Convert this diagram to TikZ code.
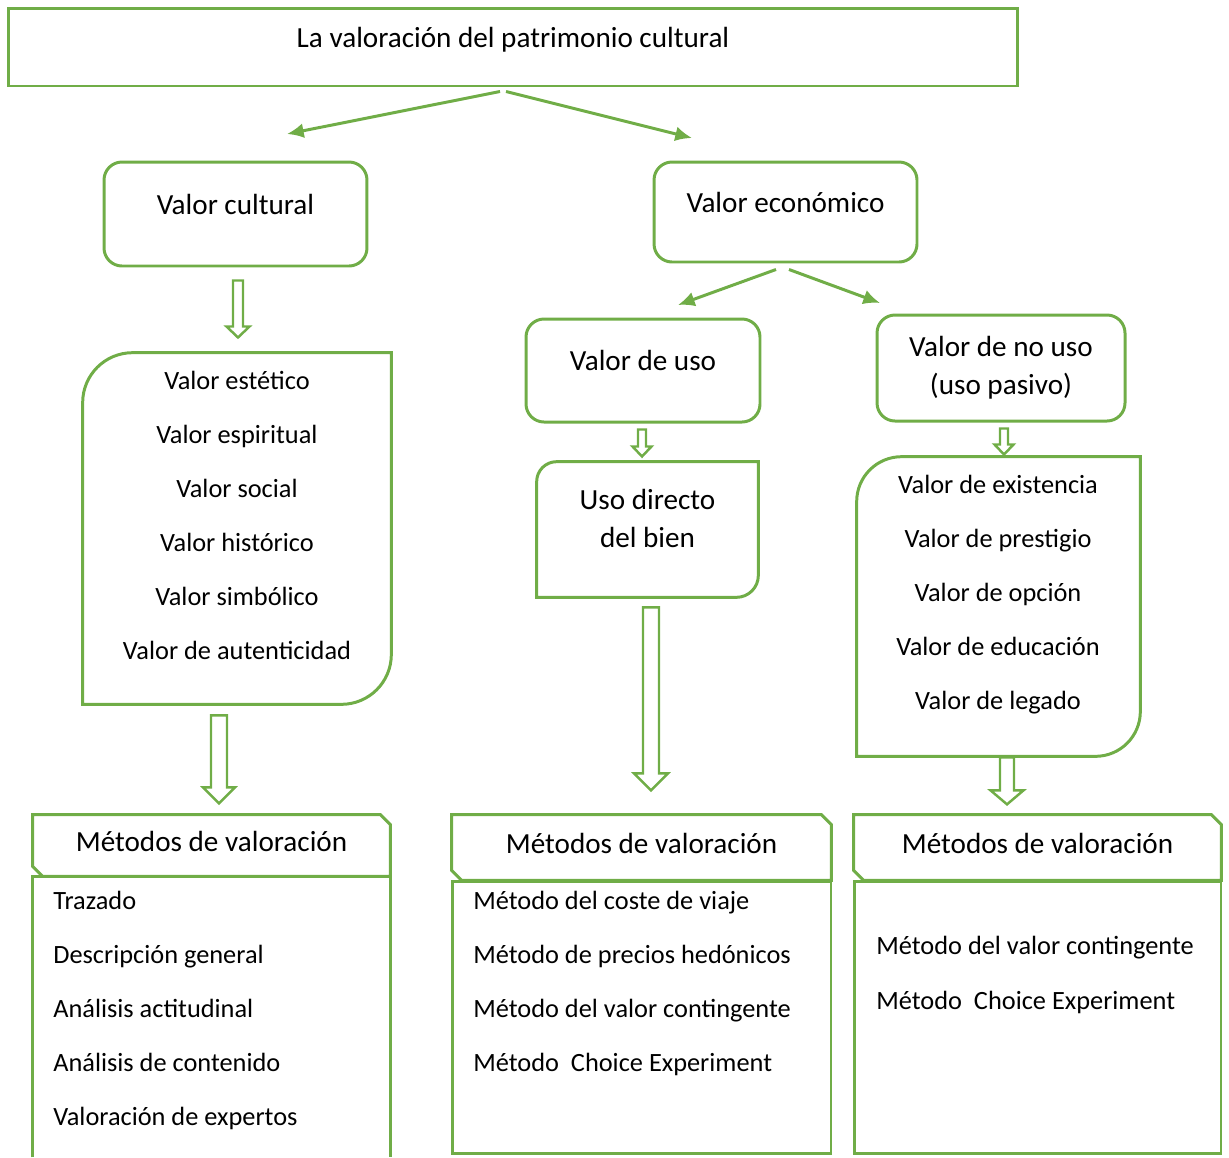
\documentclass[tikz,border=0pt]{standalone}
\usepackage{fontspec}
\setmainfont{Carlito}
\usepackage{tikz}
\usetikzlibrary{positioning,calc,arrows,arrows.meta}

\definecolor{leafgreen}{HTML}{70AD47}
\newcommand{\pxl}{0.5691pt}
\newcommand{\bigfont}{\fontsize{16.6}{21.8}\selectfont}
\newcommand{\itemfont}{\fontsize{15}{18}\selectfont}

% frame with round top-left and bottom-right corners
\newcommand{\leafframe}[3]{%
  \draw[line] (#1.north east) -- ($(#1.south east)+(0,#3)$)
    to[out=-90,in=0] ($(#1.south east)+(-#3,0)$) -- (#1.south west)
    -- ($(#1.north west)+(0,-#2)$) to[out=90,in=180] ($(#1.north west)+(#2,0)$) -- cycle;}
% frame with snipped top-right and bottom-left corners
\newcommand{\snipframe}[1]{%
  \draw[line] (#1.north west) -- ($(#1.north east)+(-10,0)$) -- ($(#1.north east)+(0,-10)$)
    -- (#1.south east) -- ($(#1.south west)+(10,0)$) -- ($(#1.south west)+(0,10)$) -- cycle;}
% hollow block arrow pointing down
\newcommand{\blockdown}[5]{%
  \draw[hollow] #1 ++(-#3,0) -- ++(2*#3,0) -- ++(0,-#2+#5) -- ++(#4-#3,0)
    -- ++(-#4,-#5) -- ++(-#4,#5) -- ++(#4-#3,0) -- cycle;}

\tikzset{
  line/.style={draw=leafgreen, line width=1.7pt},
  link/.style={line, -{Latex[length=9.5pt, width=8.5pt]}},
  hollow/.style={draw=leafgreen, line width=1.4pt, line join=miter},
  onetext/.style={font=\bigfont, text height=8pt, text depth=8pt, inner sep=0pt},
  softbox/.style={line, rounded corners=18*\pxl, inner sep=0pt},
  frame/.style={inner sep=0pt},
  itemtext/.style={font=\itemfont, inner sep=0pt},
  headtext/.style={font=\bigfont, text height=10pt, text depth=3pt, inner sep=0pt},
}

\begin{document}
\begin{tikzpicture}[x=0.02cm, y=0.02cm]
    \useasboundingbox (0,0) rectangle (1229,-1157);

    % top level
    \node[line, onetext, minimum width=1010*\pxl, minimum height=78*\pxl] (title) at (513,-47)
        {La valoración del patrimonio cultural};

    \node[softbox, onetext, minimum width=263*\pxl, minimum height=104*\pxl] (cult) at (235.5,-214) {Valor cultural};
    \node[softbox, onetext, minimum width=263*\pxl, minimum height=100*\pxl] (econ) at (785.5,-212) {Valor económico};
    \node[softbox, onetext, minimum width=234*\pxl, minimum height=103*\pxl] (uso) at (643,-370.5) {Valor de uso};
    \node[softbox, font=\bigfont, align=center, minimum width=248*\pxl, minimum height=106*\pxl] (nouso) at (1001,-368)
        {Valor de no uso\\(uso pasivo)};

    \coordinate (tocult) at (287,-134);
    \coordinate (toecon) at (692,-138);
    \coordinate (touso) at (678,-305);
    \coordinate (tonouso) at (880,-303);
    \draw[link] ($(title.south)+(-13,-4)$) -- (tocult);
    \draw[link] ($(title.south)+(-7,-4)$) -- (toecon);
    \draw[link] ($(econ.south)+(-9.5,-6)$) -- (touso);
    \draw[link] ($(econ.south)+(3.5,-6)$) -- (tonouso);

    % value lists
    \node[frame, minimum width=308*\pxl, minimum height=351*\pxl] (cultlist) at (237,-528.5) {};
    \leafframe{cultlist}{50}{50}
    \foreach \val [count=\i] in {Valor estético, Valor espiritual, Valor social,
                                 Valor histórico, Valor simbólico, Valor de autenticidad}
     \node[itemtext, anchor=base] (cv\i) at (237,-335-54*\i) {\val};

    \node[frame, minimum width=221*\pxl, minimum height=135*\pxl] (direct) at (647.5,-529.5) {};
    \leafframe{direct}{20}{22}
    \node[font=\bigfont, align=center, inner sep=0pt] (directtext) at (647.5,-518.5) {Uso directo\\del bien};

    \node[frame, minimum width=283*\pxl, minimum height=299*\pxl] (nouselist) at (998.5,-606.5) {};
    \leafframe{nouselist}{45}{45}
    \foreach \val [count=\i] in {Valor de existencia, Valor de prestigio, Valor de opción,
                                 Valor de educación, Valor de legado}
     \node[itemtext, anchor=base] (nv\i) at (998,-439-54*\i) {\val};

    \blockdown{($(cult.south)+(2.5,-13)$)}{57}{5}{11.5}{11}
    \blockdown{($(uso.south)+(-1,-6)$)}{27}{4}{9.5}{10}
    \blockdown{($(nouso.south)+(3,-6)$)}{26}{4}{9.5}{10}
    \blockdown{($(cultlist.south)+(-18,-11)$)}{88}{8}{16}{16}
    \blockdown{($(direct.south)+(3.5,-10)$)}{183}{8}{17}{17}
    \blockdown{($(nouselist.south)+(8.5,-1)$)}{47}{7}{16.5}{14}

    % valuation methods
    \node[headtext, minimum width=357*\pxl, minimum height=61*\pxl] (mhead1) at (211.5,-845.5) {Métodos de valoración};
    \node[headtext, minimum width=379*\pxl, minimum height=65*\pxl] (mhead2) at (641.5,-847.5) {Métodos de valoración};
    \node[headtext, minimum width=367*\pxl, minimum height=65*\pxl] (mhead3) at (1037.5,-847.5) {Métodos de valoración};
    \snipframe{mhead1}
    \snipframe{mhead2}
    \snipframe{mhead3}

    \draw[line] ($(mhead1.south west)+(0,-281)$) -- (mhead1.south west) -- (mhead1.south east) -- ++(0,-281);
    \node[line, frame, minimum width=379*\pxl, minimum height=272*\pxl, below=0pt of mhead2] (mbody2) {};
    \node[line, frame, minimum width=367*\pxl, minimum height=272*\pxl, below=0pt of mhead3] (mbody3) {};

    \foreach \val [count=\i] in {Trazado, Descripción general, Análisis actitudinal,
                                 Análisis de contenido, Valoración de expertos}
     \node[itemtext, anchor=base west] (ma\i) at (53,-855-54*\i) {\val};
    \foreach \val [count=\i] in {Método del coste de viaje, Método de precios hedónicos,
                                 Método del valor contingente, Método\ \ Choice Experiment}
     \node[itemtext, anchor=base west] (mb\i) at (473,-855-54*\i) {\val};
    \foreach \val [count=\i] in {Método del valor contingente, Método\ \ Choice Experiment}
     \node[itemtext, anchor=base west] (mc\i) at (876,-899-55*\i) {\val};
\end{tikzpicture}
\end{document}
